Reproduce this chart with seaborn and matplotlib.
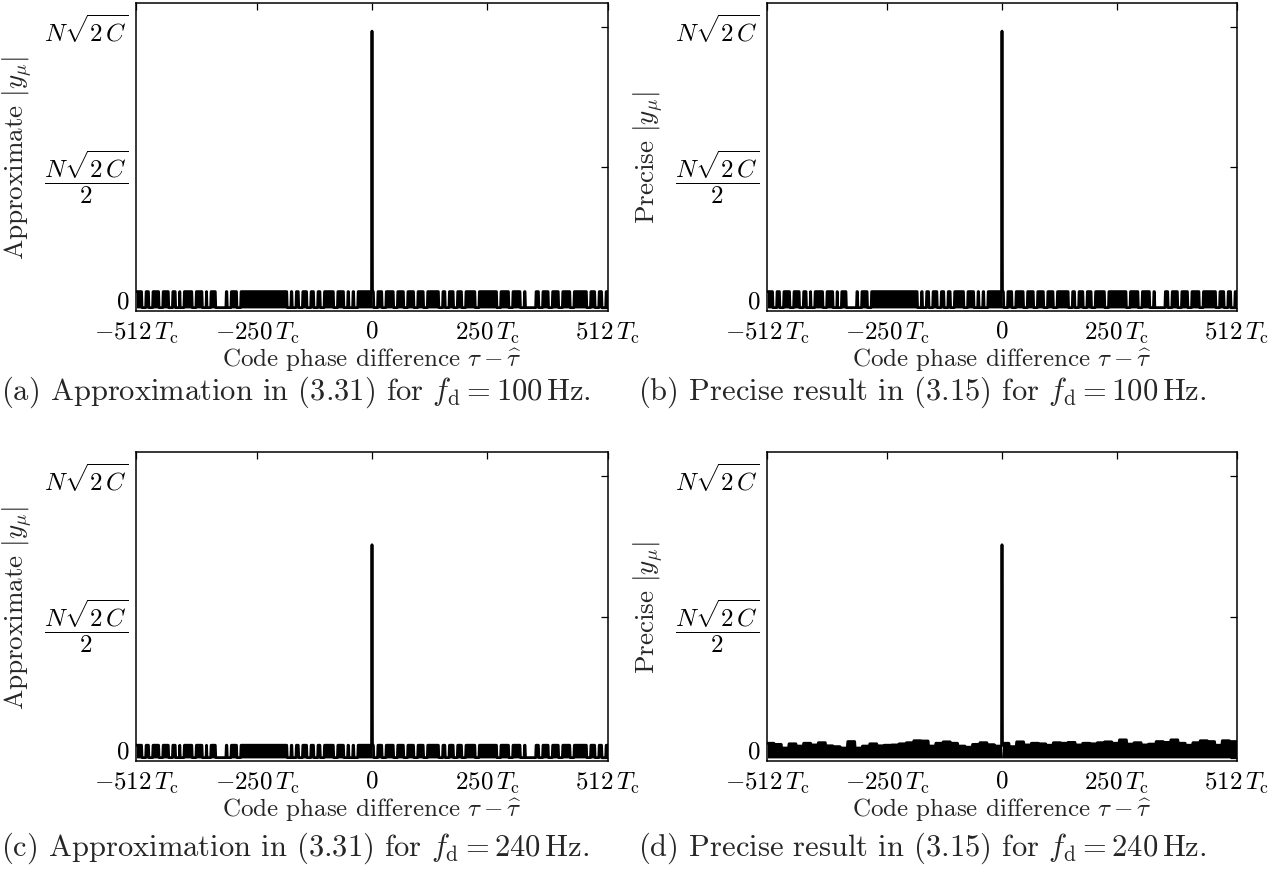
import numpy as np
import matplotlib
matplotlib.use("Agg")
import matplotlib.pyplot as plt
import seaborn as sns

# ---------------- data ----------------
chips = np.arange(-511, 512)                 # code phase difference in chips
peak_100hz = 0.985                           # normalised to N*sqrt(2C)
peak_240hz = 0.756
floor_a = 0.058                              # noise-floor height, panel (a)
floor_b = 0.058                              # panel (b)
floor_c = 0.045                              # panel (c)
gap_level = 0.001                            # level inside visible gaps
# chip positions of the thin white notches in the floor (panels a-c)
thin_gap_centers = [-495, -480, -458, -437, -422, -412, -386, -364, -354,
                    -310, -289, -180, -169, -155, -137, -122, -108, -79,
                    -57, -46, -35, 8, 26, 51, 73, 95, 116, 149, 163, 181,
                    199, 228, 275, 301, 326, 366, 387, 409, 434, 470, 488, 503]
# chip positions of the two wide gaps
wide_gap_centers = [-328, 344]
# panel (d): floor envelope, one value per block of 16 chips (from -512)
d_block_env = [0.052, 0.048, 0.035, 0.050, 0.042, 0.052, 0.046, 0.054,
               0.043, 0.040, 0.035, 0.058, 0.035, 0.042, 0.050, 0.043,
               0.045, 0.046, 0.050, 0.054, 0.061, 0.060, 0.042, 0.052,
               0.057, 0.052, 0.042, 0.038, 0.048, 0.054, 0.047, 0.042,
               0.052, 0.040, 0.057, 0.046, 0.052, 0.050, 0.045, 0.054,
               0.052, 0.055, 0.046, 0.052, 0.050, 0.054, 0.057, 0.052,
               0.064, 0.049, 0.054, 0.046, 0.049, 0.058, 0.055, 0.064,
               0.052, 0.045, 0.054, 0.061, 0.058, 0.045, 0.061, 0.058]
block_len = 16

xtick_vals = [-512, -250, 0, 250, 512]
xtick_labels = [r"$-512\,T_\mathrm{c}$", r"$-250\,T_\mathrm{c}$", r"$0$",
                r"$250\,T_\mathrm{c}$", r"$512\,T_\mathrm{c}$"]
ytick_vals = [0, 0.5, 1.0]
ytick_labels = [r"$0$", r"$\dfrac{N\sqrt{2\,C}}{2}$", r"$N\sqrt{2\,C}$"]

ylabels = [r"Approximate $|y_\mu|$", r"Precise $|y_\mu|$",
           r"Approximate $|y_\mu|$", r"Precise $|y_\mu|$"]
captions = [r"(a) Approximation in (3.31) for $f_\mathrm{d} = 100\,\mathrm{Hz}$.",
            r"(b) Precise result in (3.15) for $f_\mathrm{d} = 100\,\mathrm{Hz}$.",
            r"(c) Approximation in (3.31) for $f_\mathrm{d} = 240\,\mathrm{Hz}$.",
            r"(d) Precise result in (3.15) for $f_\mathrm{d} = 240\,\mathrm{Hz}$."]
xlabel = r"Code phase difference $\tau - \widehat{\tau}$"

# ---------------- build series ----------------
def gapped(level, peak):
    y = np.full(chips.shape, level, dtype=float)
    for c in thin_gap_centers:
        y[np.abs(chips - c) <= 4] = gap_level
    for c in wide_gap_centers:
        y[np.abs(chips - c) <= 11] = gap_level
    y[chips == 0] = peak
    return y

def blocky(env, peak):
    y = np.asarray(env, dtype=float)[(chips + 512) // block_len]
    y[chips == 0] = peak
    return y

series = [gapped(floor_a, peak_100hz), gapped(floor_b, peak_100hz),
          gapped(floor_c, peak_240hz), blocky(d_block_env, peak_240hz)]

# ---------------- style ----------------
sns.set_style("white")
plt.rcParams["font.family"] = "serif"
plt.rcParams["font.serif"] = ["cmr10", "DejaVu Serif"]
plt.rcParams["mathtext.fontset"] = "cm"
plt.rcParams["axes.formatter.use_mathtext"] = True
plt.rcParams["axes.unicode_minus"] = False

W, H = 1282, 870
fig = plt.figure(figsize=(W / 100, H / 100), dpi=100)

# axes boxes in pixels: (left, top, right, bottom)
boxes = [(136, 4, 608, 312), (767, 4, 1237, 312),
         (136, 453, 608, 762), (767, 453, 1237, 762)]
cap_xy = [(1, 392), (638, 392), (1, 848), (638, 848)]
ylab_x = [34, 665, 34, 665]

for i in range(4):
    l, t, r, b = boxes[i]
    ax = fig.add_axes([l / W, 1 - b / H, (r - l) / W, (b - t) / H])
    y = series[i]
    ax.fill_between(chips, 0, np.where(chips == 0, 0, y),
                    color="black", lw=0)
    sns.lineplot(x=chips, y=y, ax=ax, color="black", lw=2.0,
                 estimator=None, sort=False)
    ax.set_xlim(-512, 512)
    ax.set_ylim(-0.011, 1.085)
    ax.set_xticks(xtick_vals)
    ax.set_xticklabels(xtick_labels)
    ax.set_yticks(ytick_vals)
    ax.set_yticklabels(ytick_labels)
    ax.tick_params(direction="in", top=True, right=True, length=5,
                   width=0.9, labelsize=18, pad=5, colors="black")
    ax.tick_params(axis="x", pad=6)
    ax.get_yticklabels()[0].set_va("baseline")
    for s in ax.spines.values():
        s.set_visible(True)
        s.set_linewidth(1.1)
        s.set_color("black")
    ax.set_xlabel(xlabel, fontsize=18, labelpad=0)
    ax.set_ylabel(ylabels[i], fontsize=19.5)
    ax.yaxis.set_label_coords((ylab_x[i] - l) / (r - l), 0.5)
    cx, cy = cap_xy[i]
    fig.text(cx / W, 1 - cy / H, captions[i], fontsize=22,
             ha="left", va="center")

fig.savefig("out.png", dpi=100)
